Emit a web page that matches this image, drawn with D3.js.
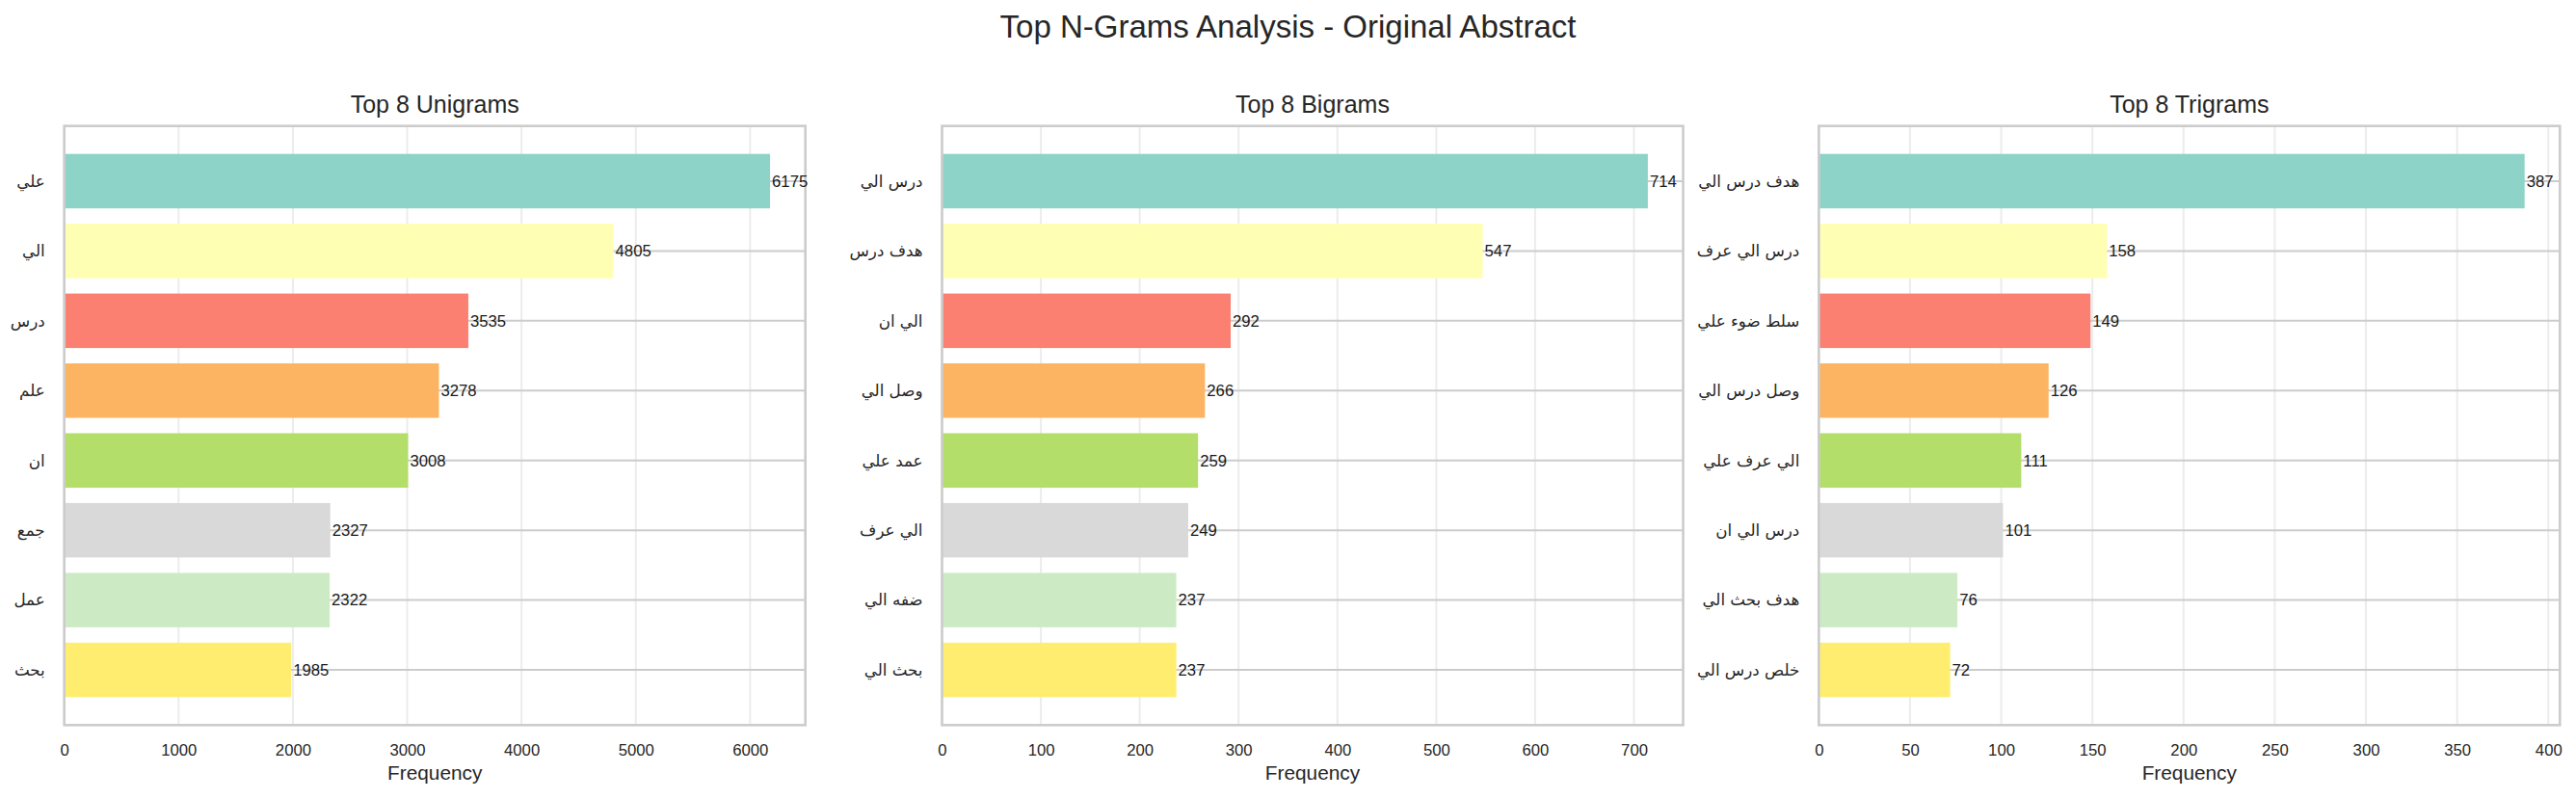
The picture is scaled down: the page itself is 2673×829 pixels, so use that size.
<!DOCTYPE html>
<html>
<head>
<meta charset="utf-8">
<script src="https://cdn.jsdelivr.net/npm/d3@7"></script>
<style>
  body { margin: 0; background: #fff; }
  text { font-family: "Liberation Sans", Arial, "DejaVu Sans", sans-serif; }
</style>
</head>
<body>
<div id="chart"></div>
<script>
// data
var uniLabels = ["علي", "الي", "درس", "علم", "ان", "جمع", "عمل", "بحث"];
var uniValues = [6175, 4805, 3535, 3278, 3008, 2327, 2322, 1985];
var uniTicks = [0, 1000, 2000, 3000, 4000, 5000, 6000];

var biLabels = ["درس الي", "هدف درس", "الي ان", "وصل الي", "عمد علي", "الي عرف", "ضفه الي", "بحث الي"];
var biValues = [714, 547, 292, 266, 259, 249, 237, 237];
var biTicks = [0, 100, 200, 300, 400, 500, 600, 700];

var triLabels = ["هدف درس الي", "درس الي عرف", "سلط ضوء علي", "وصل درس الي", "الي عرف علي", "درس الي ان", "هدف بحث الي", "خلص درس الي"];
var triValues = [387, 158, 149, 126, 111, 101, 76, 72];
var triTicks = [0, 50, 100, 150, 200, 250, 300, 350, 400];

var titles = ["Top 8 Unigrams", "Top 8 Bigrams", "Top 8 Trigrams"];
var barColors = ["#8dd3c7", "#ffffb3", "#fb8072", "#fdb462", "#b3de69", "#d9d9d9", "#ccebc5", "#ffed6f"];

var W = 2673, H = 829;
var plotTop = 130.7, plotBottom = 752.3;
var panelW = 769;
var lefts = [66.7, 977.5, 1887.3];

var svg = d3.select("#chart")
  .append("svg")
  .attr("width", W)
  .attr("height", H);

svg.append("rect").attr("width", W).attr("height", H).attr("fill", "#fff");

svg.append("text")
  .attr("x", W / 2)
  .attr("y", 39)
  .attr("text-anchor", "middle")
  .attr("font-size", "33px")
  .attr("fill", "#262626")
  .text("Top N-Grams Analysis - Original Abstract");

function drawPanel(i, labels, values, ticks) {
  var left = lefts[i];
  var right = left + panelW;
  var g = svg.append("g");

  var x = d3.scaleLinear()
    .domain([0, d3.max(values) * 1.05])
    .range([left, right]);
  // matplotlib-like margins around the bars
  var y = d3.scaleLinear()
    .domain([-0.79, labels.length - 1 + 0.79])
    .range([plotTop, plotBottom]);
  var bh = y(0.39) - y(-0.39);

  // vertical grid (light)
  g.selectAll(".vgrid")
    .data(ticks)
    .enter()
    .append("line")
    .attr("x1", (d) => x(d))
    .attr("x2", (d) => x(d))
    .attr("y1", plotTop)
    .attr("y2", plotBottom)
    .attr("stroke", "#ececec")
    .attr("stroke-width", 2);

  // horizontal grid at each category
  g.selectAll(".hgrid")
    .data(labels)
    .enter()
    .append("line")
    .attr("x1", left)
    .attr("x2", right)
    .attr("y1", (d, j) => y(j))
    .attr("y2", (d, j) => y(j))
    .attr("stroke", "#cccccc")
    .attr("stroke-width", 2);

  g.selectAll(".bar")
    .data(values)
    .enter()
    .append("rect")
    .attr("x", x(0))
    .attr("y", (d, j) => y(j) - bh / 2)
    .attr("width", (d) => x(d) - x(0))
    .attr("height", bh)
    .attr("fill", (d, j) => barColors[j]);

  g.append("rect")
    .attr("x", left)
    .attr("y", plotTop)
    .attr("width", panelW)
    .attr("height", plotBottom - plotTop)
    .attr("fill", "none")
    .attr("stroke", "#cccccc")
    .attr("stroke-width", 2.6);

  // value labels
  g.selectAll(".val")
    .data(values)
    .enter()
    .append("text")
    .attr("x", (d) => x(d) + 2)
    .attr("y", (d, j) => y(j))
    .attr("dy", "0.35em")
    .attr("font-size", "16.7px")
    .attr("fill", "#1a1a1a")
    .text((d) => d);

  // category labels
  g.selectAll(".cat")
    .data(labels)
    .enter()
    .append("text")
    .attr("x", left - 20)
    .attr("y", (d, j) => y(j))
    .attr("dy", "0.35em")
    .attr("text-anchor", "end")
    .attr("font-size", "16.7px")
    .attr("fill", "#262626")
    .style("font-family", "'DejaVu Sans', sans-serif")
    .text((d) => d);

  // x axis tick labels
  var xAxis = d3.axisBottom(x).tickValues(ticks).tickFormat(d3.format("d")).tickSize(0).tickPadding(0);
  var ax = g.append("g")
    .attr("transform", "translate(0," + plotBottom + ")")
    .call(xAxis);
  ax.select(".domain").remove();
  ax.selectAll("text")
    .attr("y", 0)
    .attr("dy", 0)
    .attr("transform", "translate(0,32)")
    .attr("font-size", "16.7px")
    .attr("font-family", "'Liberation Sans', Arial, sans-serif")
    .attr("fill", "#262626");

  g.append("text")
    .attr("x", (left + right) / 2)
    .attr("y", 809)
    .attr("text-anchor", "middle")
    .attr("font-size", "20.8px")
    .attr("fill", "#262626")
    .text("Frequency");

  g.append("text")
    .attr("x", (left + right) / 2)
    .attr("y", 117)
    .attr("text-anchor", "middle")
    .attr("font-size", "25px")
    .attr("fill", "#262626")
    .text(titles[i]);
}

drawPanel(0, uniLabels, uniValues, uniTicks);
drawPanel(1, biLabels, biValues, biTicks);
drawPanel(2, triLabels, triValues, triTicks);
</script>
</body>
</html>
